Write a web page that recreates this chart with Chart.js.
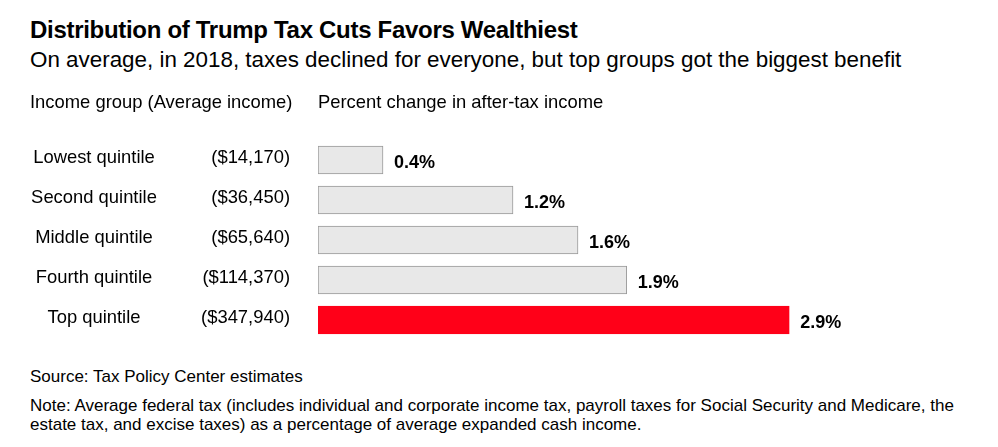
<!DOCTYPE html>
<html><head><meta charset="utf-8">
<script src="https://cdn.jsdelivr.net/npm/chart.js@4"></script>
<style>
body{margin:0;width:998px;height:447px;background:#fff;font-family:"Liberation Sans",Arial,sans-serif;color:#000;position:relative;overflow:hidden}
.t{position:absolute;left:30px;white-space:nowrap}
#c{position:absolute;left:0;top:0}
</style></head><body>
<div class="t" style="top:16px;font-size:24px;font-weight:bold;letter-spacing:-0.3px">Distribution of Trump Tax Cuts Favors Wealthiest</div>
<div class="t" style="top:47px;font-size:22.4px">On average, in 2018, taxes declined for everyone, but top groups got the biggest benefit</div>
<div class="t" style="top:367px;font-size:17px">Source: Tax Policy Center estimates</div>
<div class="t" style="top:396px;font-size:17px;line-height:19px">Note: Average federal tax (includes individual and corporate income tax, payroll taxes for Social Security and Medicare, the<br>estate tax, and excise taxes) as a percentage of average expanded cash income.</div>
<canvas id="c" width="998" height="447"></canvas>
<script>
const groups = ['Lowest quintile', 'Second quintile', 'Middle quintile', 'Fourth quintile', 'Top quintile'];
const incomes = ['($14,170)', '($36,450)', '($65,640)', '($114,370)', '($347,940)'];
const changes = [0.4, 1.2, 1.6, 1.9, 2.9];

const FONT = '"Liberation Sans", Arial, sans-serif';
const sideText = {
  id: 'sideText',
  afterDraw(chart) {
    const ctx = chart.ctx, y = chart.scales.y, x = chart.scales.x;
    ctx.save();
    ctx.fillStyle = '#000';
    ctx.textBaseline = 'middle';
    ctx.font = '18.4px ' + FONT;
    ctx.textAlign = 'left';
    ctx.fillText('Income group (Average income)', 30, 103);
    ctx.fillText('Percent change in after-tax income', 318, 103);
    groups.forEach((g, i) => {
      const yy = y.getPixelForValue(i);
      ctx.font = '18.4px ' + FONT;
      ctx.textAlign = 'center';
      ctx.fillText(g, 94, yy - 2);
      ctx.textAlign = 'right';
      ctx.fillText(incomes[i], 290, yy - 2);
      ctx.textAlign = 'left';
      ctx.font = 'bold 18px ' + FONT;
      ctx.fillText(changes[i].toFixed(1) + '%', x.getPixelForValue(changes[i]) + 11, yy + 3);
    });
    ctx.restore();
  }
};

new Chart(document.getElementById('c'), {
  type: 'bar',
  data: {
    labels: groups,
    datasets: [{
      data: changes,
      backgroundColor: changes.map((v, i) => i === 4 ? '#ff0018' : '#e8e8e8'),
      borderColor: changes.map((v, i) => i === 4 ? '#ff0018' : '#999'),
      borderWidth: 1,
      borderSkipped: false,
      barThickness: 28
    }]
  },
  options: {
    indexAxis: 'y',
    responsive: false,
    animation: false,
    layout: { padding: { left: 318, right: 30, top: 140, bottom: 107 } },
    scales: {
      x: { display: false, min: 0, max: 4 },
      y: { display: false }
    },
    plugins: { legend: { display: false }, tooltip: { enabled: false } }
  },
  plugins: [sideText]
});
</script>
</body></html>
